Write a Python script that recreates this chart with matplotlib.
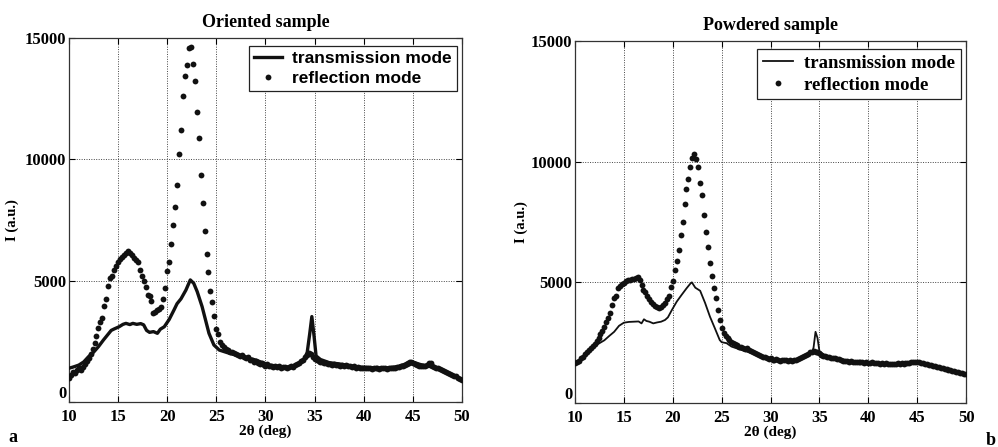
import numpy as np
import matplotlib

matplotlib.use("Agg")
import matplotlib.pyplot as plt

plt.rcParams["font.family"] = ["Liberation Serif", "DejaVu Serif"]
plt.rcParams["font.weight"] = "bold"

# reflection scans: 2theta from 10 to 50 deg, 0.2 deg step
SCAN_START, SCAN_STOP, SCAN_STEP = 10.0, 50.0, 0.2

refl_oriented = [
    980, 1120, 1250, 1180, 1300, 1400, 1330, 1450, 1560, 1680,
    1800, 1980, 2200, 2450, 2700, 3050, 3300, 3470, 3950, 4240,
    4780, 5100, 5200, 5450, 5600, 5780, 5880, 5970, 6050, 6150,
    6240, 6150, 6050, 5950, 5850, 5750, 5440, 5200, 5000, 4750,
    4410, 4350, 4150, 3650, 3700, 3780, 3850, 3900, 4250, 4700,
    5400, 5760, 6500, 7300, 8030, 8950, 10200, 11210, 12610, 13420,
    13870, 14600, 14640, 13930, 13240, 11960, 10890, 9370, 8210, 7060,
    6100, 5360, 4590, 4110, 3560, 3000, 2800, 2480, 2350, 2250,
    2200, 2150, 2080, 2050, 2000, 1980, 1950, 1900, 1920, 1870,
    1800, 1850, 1750, 1720, 1660, 1700, 1620, 1580, 1600, 1520,
    1500, 1560, 1480, 1500, 1440, 1470, 1430, 1480, 1420, 1450,
    1460, 1410, 1450, 1480, 1460, 1520, 1550, 1600, 1680, 1750,
    1850, 1950, 2010, 1980, 1850, 1780, 1730, 1700, 1650, 1640,
    1600, 1620, 1580, 1560, 1540, 1560, 1520, 1540, 1500, 1510,
    1480, 1530, 1470, 1480, 1450, 1470, 1420, 1440, 1400, 1420,
    1380, 1420, 1390, 1400, 1370, 1410, 1380, 1400, 1370, 1390,
    1380, 1400, 1370, 1410, 1400, 1420, 1400, 1440, 1450, 1480,
    1500, 1540, 1580, 1620, 1640, 1600, 1560, 1520, 1500, 1470,
    1480, 1500, 1540, 1600, 1620, 1500, 1460, 1420, 1380, 1340,
    1300, 1280, 1240, 1200, 1160, 1120, 1090, 1060, 1000, 960,
    900,
]

refl_powdered = [
    1640, 1700, 1760, 1850, 1900, 2050, 2100, 2200, 2300, 2380,
    2450, 2550, 2700, 2850, 3000, 3150, 3350, 3510, 3750, 4050,
    4340, 4450, 4750, 4850, 4950, 4980, 5050, 5100, 5080, 5120,
    5120, 5180, 5230, 5100, 4900, 4700, 4600, 4450, 4300, 4200,
    4100, 4030, 3980, 3950, 3990, 4050, 4130, 4300, 4450, 4800,
    5050, 5500, 5900, 6350, 6950, 7500, 8250, 8850, 9300, 9800,
    10140, 10300, 10100, 9800, 9100, 8600, 7800, 7100, 6450, 5800,
    5250, 4750, 4350, 3850, 3430, 3100, 2900, 2780, 2680, 2600,
    2540, 2500, 2450, 2400, 2340, 2330, 2290, 2250, 2270, 2200,
    2150, 2120, 2080, 2040, 2000, 1960, 1920, 1890, 1860, 1840,
    1850, 1800, 1780, 1820, 1790, 1760, 1800, 1770, 1780, 1750,
    1780, 1760, 1800, 1790, 1830, 1850, 1900, 1930, 1980, 2050,
    2100, 2130, 2150, 2130, 2120, 2080, 2000, 1950, 1930, 1900,
    1920, 1880, 1870, 1850, 1830, 1810, 1780, 1760, 1750, 1740,
    1720, 1740, 1710, 1700, 1690, 1700, 1680, 1690, 1670, 1680,
    1670, 1660, 1680, 1650, 1640, 1660, 1630, 1650, 1620, 1640,
    1620, 1630, 1600, 1620, 1610, 1640, 1620, 1650, 1630, 1660,
    1670, 1650, 1680, 1700, 1690, 1710, 1680, 1660, 1640, 1620,
    1600, 1580, 1560, 1550, 1520, 1510, 1490, 1470, 1450, 1420,
    1400, 1380, 1370, 1340, 1320, 1300, 1280, 1260, 1240, 1220,
    1200,
]

# transmission scans
trans_oriented_x = [
    10.0, 10.5, 11.0, 11.5, 12.0, 12.5, 13.0, 13.5, 14.0, 14.3, 14.6, 15.1,
    15.5, 15.8, 16.2, 16.5, 16.9, 17.3, 17.6, 17.9, 18.2, 18.6, 19.0, 19.3,
    19.7, 20.2, 20.7, 21.0, 21.4, 21.9, 22.35, 22.7, 23.05, 23.55, 23.9,
    24.25, 24.75, 25.3, 26.3, 27.6, 29.0, 30.3, 31.5, 32.5, 33.3, 33.9,
    34.25, 34.5, 34.72, 34.95, 35.15, 35.6, 36.5, 37.5, 38.5, 39.5, 40.5,
    41.5, 42.5, 43.5, 44.2, 44.7, 45.2, 45.8, 46.5, 47.2, 48.0, 49.0, 50.0,
]
trans_oriented = [
    1390, 1450, 1520, 1650, 1870, 2050, 2280, 2550, 2800, 2950, 3010, 3100,
    3200, 3240, 3190, 3240, 3200, 3230, 3180, 2950, 2870, 2900, 2830, 3000,
    3100, 3400, 3800, 4050, 4250, 4610, 5030, 4890, 4550, 3930, 3380,
    2830, 2350, 2140, 2010, 1870, 1730, 1530, 1460, 1430, 1530, 1720,
    2050, 2800, 3520, 2700, 1900, 1750, 1620, 1570, 1500, 1440, 1420,
    1400, 1410, 1460, 1560, 1680, 1620, 1540, 1480, 1420, 1300, 1100, 880,
]

trans_powdered_x = [
    10.0, 10.5, 11.0, 11.5, 12.0, 12.5, 13.0, 13.5, 14.0, 14.5, 15.0, 15.5,
    16.0, 16.5, 16.8, 17.05, 17.3, 17.6, 18.0, 18.4, 18.8, 19.2, 19.5, 19.9,
    20.4, 20.9, 21.4, 21.8, 21.95, 22.3, 22.8, 23.3, 23.8, 24.3, 24.8, 25.0,
    25.5, 26.0, 27.0, 28.0, 29.0, 30.0, 31.0, 32.0, 33.0, 33.8, 34.2, 34.4,
    34.6, 34.8, 35.0, 35.5, 36.5, 37.5, 38.5, 39.5, 40.5, 41.5, 42.5, 43.5,
    44.5, 45.3, 46.0, 47.0, 48.0, 49.0, 50.0,
]
trans_powdered = [
    1650, 1800, 1950, 2100, 2350, 2480, 2600, 2780, 2950, 3200, 3330, 3360,
    3370, 3380, 3300, 3470, 3400, 3370, 3300, 3340, 3370, 3440, 3550, 3850,
    4200, 4480, 4750, 4950, 5000, 4780, 4650, 4150, 3580, 3100, 2610, 2520,
    2480, 2340, 2200, 2080, 1950, 1850, 1790, 1780, 1850, 1950, 2050, 2300,
    2950, 2700, 2150, 2000, 1880, 1800, 1720, 1700, 1680, 1640, 1640, 1660,
    1680, 1700, 1620, 1530, 1420, 1330, 1230,
]

x_ticks = [10, 15, 20, 25, 30, 35, 40, 45, 50]
y_ticks = [0, 5000, 10000, 15000]

scan_x = np.arange(SCAN_START, SCAN_STOP + SCAN_STEP / 2, SCAN_STEP)

fig = plt.figure(figsize=(9.98, 4.47), dpi=100)
ax_a = fig.add_axes([0.0691, 0.1007, 0.3938, 0.8143])
ax_b = fig.add_axes([0.5762, 0.0984, 0.3918, 0.8098])

panels = [
    (ax_a, "Oriented sample", trans_oriented_x, trans_oriented, refl_oriented, 2.4, -0.127,
     {"family": ["Liberation Sans Narrow", "Liberation Sans"], "weight": "bold", "size": 12.5}),
    (ax_b, "Powdered sample", trans_powdered_x, trans_powdered, refl_powdered, 1.3, -0.12,
     {"family": ["Liberation Serif"], "weight": "bold", "size": 13.5}),
]

for ax, title, tx, ty, ry, lw, ylab_x, legend_font in panels:
    ax.plot(tx, ty, "-", color="#111111", lw=lw, label="transmission mode", zorder=3)
    ax.plot(scan_x, ry, "o", color="#111111", ms=4.2, mec="none",
            label="reflection mode", zorder=3)
    ax.set_xlim(10, 50)
    ax.set_ylim(0, 15000)
    ax.set_xticks(x_ticks)
    ax.set_yticks(y_ticks)
    ax.grid(True, linestyle=(0, (1, 1.5)), color="#444444", lw=0.7)
    ax.tick_params(direction="in", top=True, right=True, length=4, width=0.8,
                   labelsize=12, pad=2)
    ax.tick_params(axis="x", pad=5)
    for lab in ax.get_xticklabels() + ax.get_yticklabels():
        lab.set_fontweight("bold")
    # lift the "0" so it clears the "10" below it
    ax.get_yticklabels()[0].set_verticalalignment("bottom")
    for sp in ax.spines.values():
        sp.set_linewidth(0.9)
        sp.set_color("#333333")
    ax.set_title(title, fontsize=13, fontweight="bold", pad=8)
    ax.set_xlabel("2θ (deg)", fontsize=11, fontweight="bold", labelpad=0)
    ax.set_ylabel("I (a.u.)", fontsize=10.5, fontweight="bold")
    ax.yaxis.set_label_coords(ylab_x, 0.5)
    leg = ax.legend(loc="upper right", bbox_to_anchor=(0.987, 0.978),
                    borderaxespad=0, prop=legend_font, frameon=True, fancybox=False,
                    handlelength=1.6, handletextpad=0.6, labelspacing=0.25,
                    borderpad=0.3, markerscale=1.0)
    leg.get_frame().set_edgecolor("#222222")
    leg.get_frame().set_linewidth(0.9)
    leg.get_frame().set_alpha(1)

fig.text(0.008, 0.012, "a", fontsize=13, fontweight="bold")
fig.text(0.988, 0.005, "b", fontsize=13, fontweight="bold")

fig.savefig("out.png", dpi=100, facecolor="white")
